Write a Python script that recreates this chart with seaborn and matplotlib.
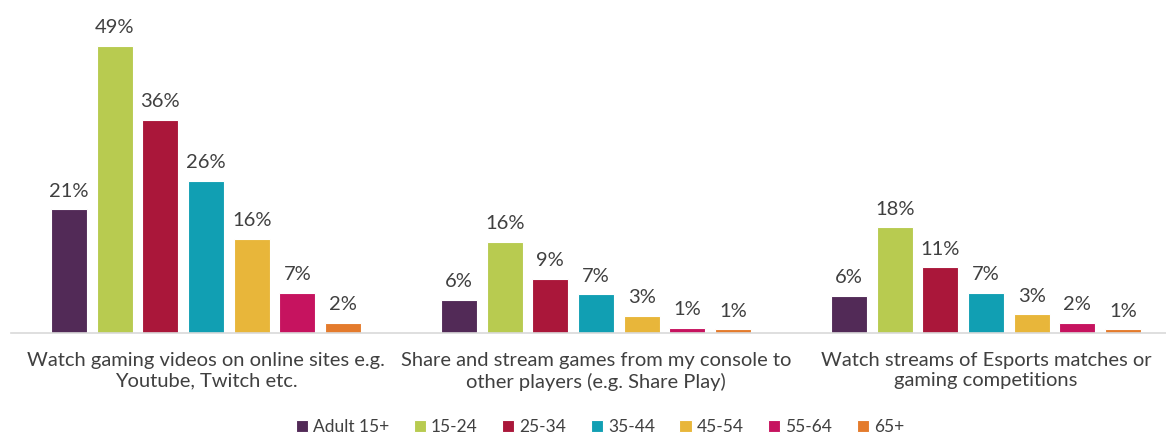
import pandas as pd
import matplotlib
matplotlib.use('Agg')
import matplotlib.pyplot as plt
import seaborn as sns

# categories and age groups
categories = ['Watch gaming videos on online sites e.g.\nYoutube, Twitch etc.',
              'Share and stream games from my console to\nother players (e.g. Share Play)',
              'Watch streams of Esports matches or\ngaming competitions']
ages = ['Adult 15+', '15-24', '25-34', '35-44', '45-54', '55-64', '65+']

# percentages per age group (one list per category)
watch_videos = [21.1, 49.0, 36.4, 26.0, 16.0, 6.85, 1.75]
share_stream = [5.6, 15.6, 9.2, 6.6, 2.9, 0.9, 0.6]
watch_esports = [6.3, 18.0, 11.2, 6.8, 3.2, 1.7, 0.63]

colors = ['#522A57', '#B8CB50', '#AA173A', '#119FB3', '#E8B63A', '#C6135F', '#E47B2C']

rows = []
for cat, vals in zip(categories, [watch_videos, share_stream, watch_esports]):
    for a, v in zip(ages, vals):
        rows.append({'category': cat, 'age': a, 'pct': v})
df = pd.DataFrame(rows)

sns.set_style('white')
plt.rcParams['font.family'] = ['Lato', 'DejaVu Sans']
text_col = '#404040'

fig = plt.figure(figsize=(11.66, 4.37), dpi=100)
ax = fig.add_axes([11 / 1166, 104 / 437, 1170 / 1166, 333 / 437])

sns.barplot(data=df, x='category', y='pct', hue='age', hue_order=ages,
            palette=colors, saturation=1, width=0.82, gap=0.21,
            edgecolor='white', linewidth=0.8, ax=ax, legend=True)

for cont in ax.containers:
    ax.bar_label(cont, labels=[f'{round(b.get_height())}%' for b in cont],
                 padding=7, fontsize=14.5, color=text_col)

ax.set_ylim(0, 333 / 5.864)
ax.set_xlim(-0.5, 2.5)
ax.set_xlabel('')
ax.set_ylabel('')
ax.set_yticks([])
ax.tick_params(axis='x', length=0, pad=14, labelsize=14.5, labelcolor=text_col)
for t in ax.get_xticklabels():
    t.set_linespacing(1.2)
for s in ['top', 'right', 'left']:
    ax.spines[s].set_visible(False)
ax.spines['bottom'].set_color('#D9D9D9')
ax.spines['bottom'].set_linewidth(1.2)

handles, labels = ax.get_legend_handles_labels()
ax.get_legend().remove()
fig.legend(handles, labels, loc='center', bbox_to_anchor=(600 / 1166, 10 / 437),
           ncol=7, frameon=False, handlelength=0.7, handleheight=0.7,
           handletextpad=0.3, columnspacing=1.4, fontsize=12.5,
           labelcolor=text_col, borderaxespad=0)

fig.savefig('out.png', dpi=100)
